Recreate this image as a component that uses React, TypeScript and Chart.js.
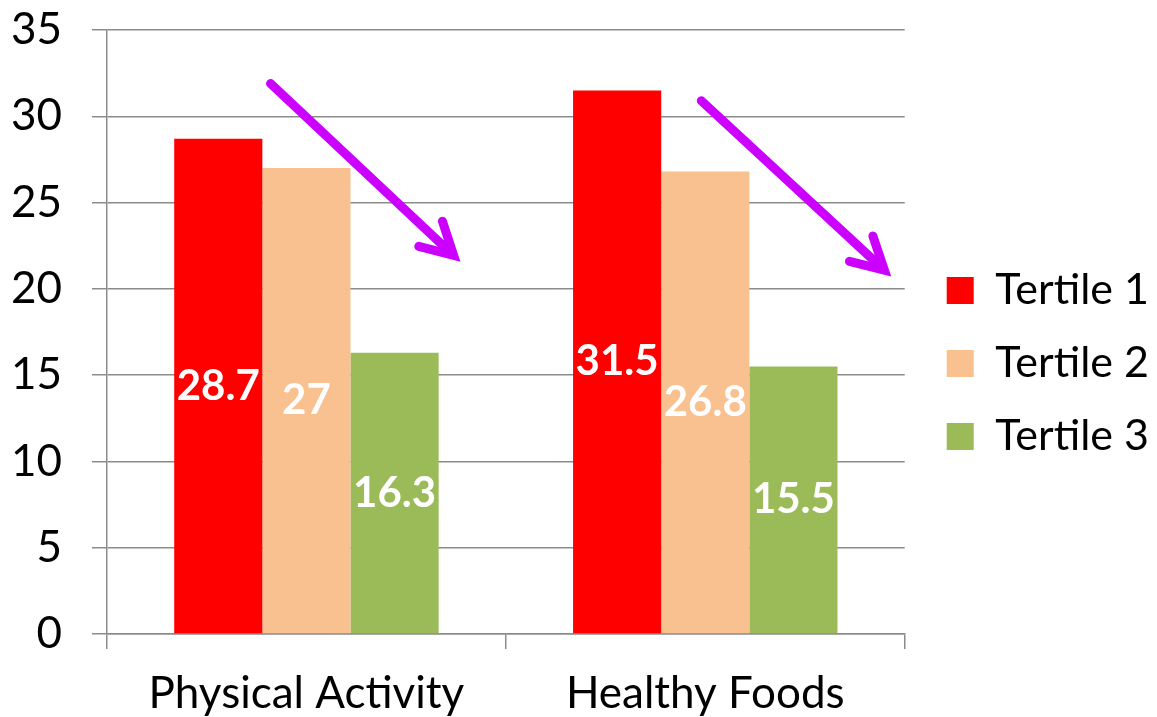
import React, { useEffect, useRef } from "react";
import { Chart, registerables } from "chart.js";

Chart.register(...registerables);

const categories = ["Physical Activity", "Healthy Foods"];
const seriesNames = ["Tertile 1", "Tertile 2", "Tertile 3"];
const tertile1 = [28.7, 31.5];
const tertile2 = [27, 26.8];
const tertile3 = [16.3, 15.5];
const seriesColors = ["#ff0000", "#f9c090", "#9bbb59"];

// Trend arrows, in data units (x = category index, y = value)
const arrowStartX = [-0.09, 0.99];
const arrowStartY = [31.9, 30.9];
const arrowEndX = [0.38, 1.46];
const arrowEndY = [21.7, 20.85];

const FONT = "Lato, 'Open Sans', sans-serif";
const GRID = "#8c8c8c";

const barLabelPlugin = {
  id: "barLabels",
  afterDatasetsDraw(chart: any) {
    const ctx = chart.ctx;
    ctx.save();
    ctx.fillStyle = "#ffffff";
    ctx.font = `bold 42px ${FONT}`;
    ctx.textAlign = "center";
    ctx.textBaseline = "middle";
    chart.data.datasets.forEach((ds: any, di: number) => {
      const meta = chart.getDatasetMeta(di);
      meta.data.forEach((bar: any, i: number) => {
        const v = ds.data[i];
        const y = (bar.y + bar.base) / 2;
        ctx.fillText(String(v), bar.x, y);
      });
    });
    ctx.restore();
  },
};

const legendShiftPlugin = {
  id: "legendShift",
  afterLayout(chart: any) {
    const lg = chart.legend;
    if (lg) {
      lg.left += 12;
      lg.right += 12;
      lg.top -= 10;
      lg.bottom -= 10;
    }
  },
};

const arrowPlugin = {
  id: "trendArrows",
  afterDatasetsDraw(chart: any) {
    const ctx = chart.ctx;
    const xs = chart.scales.x;
    const ys = chart.scales.y;
    ctx.save();
    ctx.strokeStyle = "#cc00ff";
    ctx.lineWidth = 9;
    ctx.lineCap = "round";
    ctx.lineJoin = "miter";
    for (let k = 0; k < arrowStartX.length; k++) {
      const x1 = xs.getPixelForValue(arrowStartX[k]);
      const y1 = ys.getPixelForValue(arrowStartY[k]);
      const x2 = xs.getPixelForValue(arrowEndX[k]);
      const y2 = ys.getPixelForValue(arrowEndY[k]);
      const ang = Math.atan2(y2 - y1, x2 - x1);
      const headLen = 36;
      const spread = 0.5;
      const tipBack = 6;
      const tx = x2 - Math.cos(ang) * tipBack;
      const ty = y2 - Math.sin(ang) * tipBack;
      ctx.beginPath();
      ctx.moveTo(x1, y1);
      ctx.lineTo(tx - Math.cos(ang) * 4, ty - Math.sin(ang) * 4);
      ctx.stroke();
      ctx.beginPath();
      ctx.moveTo(tx - Math.cos(ang - spread) * headLen, ty - Math.sin(ang - spread) * headLen);
      ctx.lineTo(tx, ty);
      ctx.lineTo(tx - Math.cos(ang + spread) * headLen, ty - Math.sin(ang + spread) * headLen);
      ctx.stroke();
    }
    ctx.restore();
  },
};

export default function App() {
  const ref = useRef<HTMLCanvasElement | null>(null);
  useEffect(() => {
    document.body.style.margin = "0";
    const canvas = ref.current;
    if (!canvas) return;
    const data = [tertile1, tertile2, tertile3];
    const chart = new Chart(canvas, {
      type: "bar",
      data: {
        labels: categories,
        datasets: seriesNames.map((name, i) => ({
          label: name,
          data: data[i],
          backgroundColor: seriesColors[i],
          borderWidth: 0,
          categoryPercentage: 0.663,
          barPercentage: 1,
        })),
      },
      options: {
        animation: false,
        responsive: true,
        maintainAspectRatio: false,
        layout: { padding: { top: 30, right: 10, bottom: 0, left: 0 } },
        plugins: {
          legend: {
            position: "right",
            labels: {
              font: { family: FONT, size: 43 },
              color: "#000000",
              boxWidth: 27,
              boxHeight: 27,
              padding: 30,
            },
          },
          tooltip: { enabled: false },
          title: { display: false },
        },
        scales: {
          x: {
            grid: {
              offset: true,
              drawOnChartArea: false,
              drawTicks: true,
              tickLength: 15,
              color: GRID,
              lineWidth: 1.5,
            },
            border: { display: true, color: GRID, width: 1.5 },
            ticks: {
              font: { family: FONT, size: 44 },
              color: "#000000",
              padding: 18,
              maxRotation: 0,
            },
            afterFit(scale: any) {
              scale.height = 83;
              scale.paddingLeft = 0;
              scale.paddingRight = 0;
            },
          },
          y: {
            min: 0,
            max: 35,
            ticks: {
              stepSize: 5,
              font: { family: FONT, size: 44 },
              color: "#000000",
              padding: 30,
            },
            grid: {
              color: GRID,
              lineWidth: 1.5,
              tickLength: 15,
              drawTicks: true,
            },
            border: { display: true, color: GRID, width: 1.5 },
            afterFit(scale: any) {
              scale.width = 107;
              scale.paddingTop = 0;
              scale.paddingBottom = 0;
            },
          },
        },
      },
      plugins: [barLabelPlugin, arrowPlugin, legendShiftPlugin],
    });
    return () => chart.destroy();
  }, []);
  return (
    <div style={{ position: "relative", width: "1157px", height: "717px" }}>
      <canvas ref={ref} />
    </div>
  );
}
